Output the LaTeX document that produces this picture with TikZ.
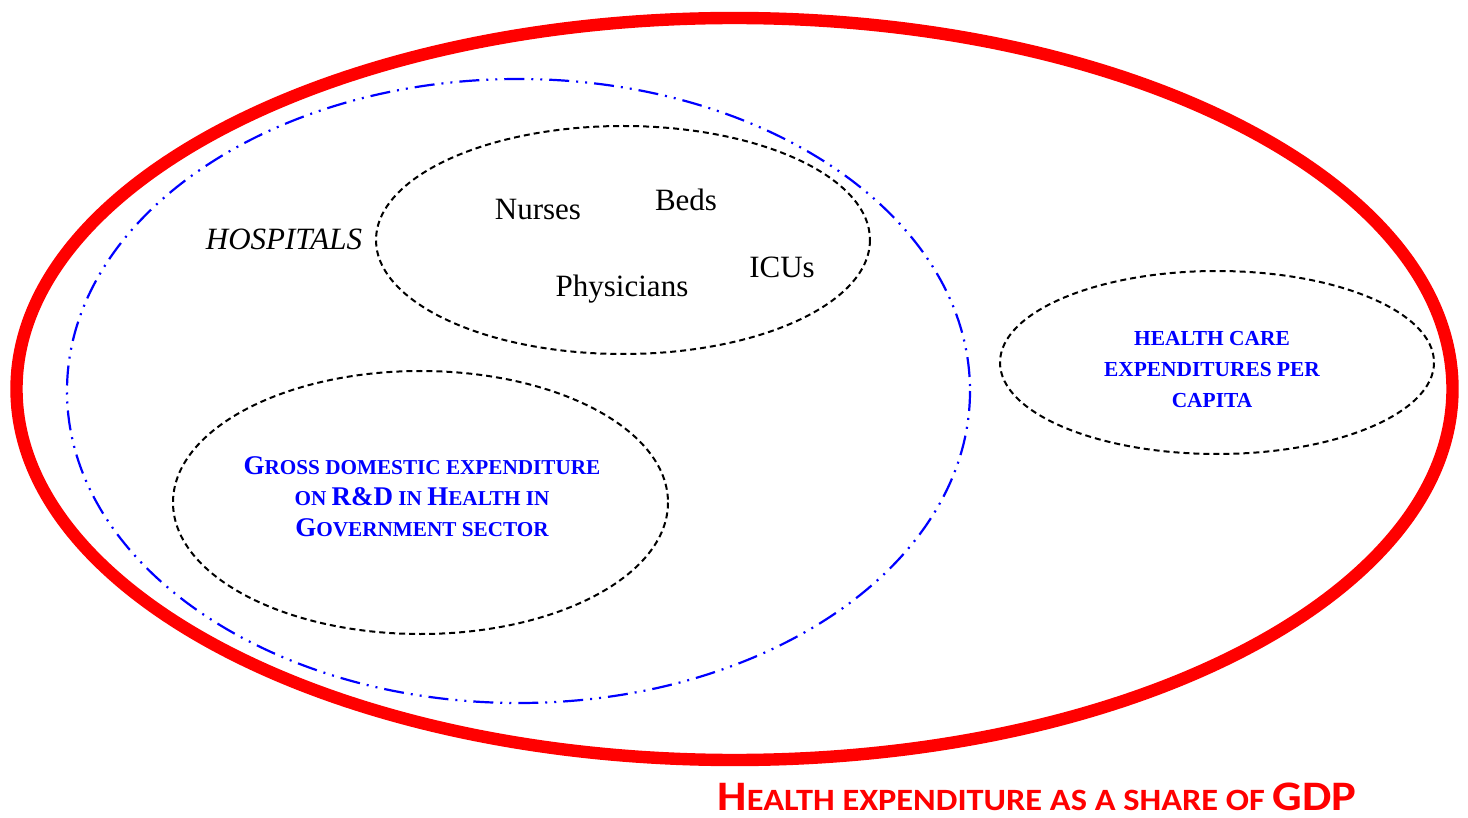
\documentclass[tikz,border=0pt]{standalone}
\usepackage{fontspec}
\usepackage{graphicx}
\setmainfont{Liberation Serif}
\newfontfamily\labfont{Carlito}
\definecolor{myred}{RGB}{255,0,0}
\definecolor{myblue}{RGB}{0,0,255}
\tikzset{
  px/.style={x=0.5pt,y=-0.5pt},
  blk/.style={draw=black,line width=1pt,dash pattern=on 3pt off 2pt},
  word/.style={inner sep=0pt,font=\fontsize{15.5}{18}\selectfont},
  bluetxt/.style={inner sep=0pt,align=center,text=myblue,font=\bfseries\fontsize{10.7}{15.5}\selectfont},
}
\newcommand{\gsc}[2]{{\fontsize{13.5}{15.5}\selectfont #1}{\fontsize{10.6}{15.5}\selectfont #2}}
\newcommand{\gs}[1]{{\fontsize{10.6}{15.5}\selectfont #1}}
\begin{document}
\begin{tikzpicture}[px]
\useasboundingbox (0,0) rectangle (1468,818);
\draw[myred,line width=6.2pt] (734.5,389) ellipse [x radius=718,y radius=371];
\draw[myblue,line width=1.1pt,dash pattern=on 10pt off 3.5pt on 1pt off 3.5pt on 1pt off 3.5pt] (518.5,391) ellipse [x radius=451.5,y radius=312];
\draw[blk] (623,240) ellipse [x radius=247,y radius=114];
\draw[blk] (420.5,502.5) ellipse [x radius=247.5,y radius=131.5];
\draw[blk] (1217,362.5) ellipse [x radius=217,y radius=91.5];
\node[word,font=\fontsize{15.5}{18}\selectfont\itshape] (hosp) at (284,239) {HOSPITALS};
\node[word] (nurses) at (538,210) {Nurses};
\node[word] (beds) at (686,200) {Beds};
\node[word] (icus) at (782,267) {ICUs};
\node[word] (phys) at (622,289) {Physicians};
\node[bluetxt] (gerd) at (422,497) {\gsc{G}{ROSS DOMESTIC EXPENDITURE}\\\gs{ON }\gsc{R\&D}{ IN }\gsc{H}{EALTH IN}\\\gsc{G}{OVERNMENT SECTOR}};
\node[bluetxt] (hce) at (1212,370) {HEALTH CARE\\EXPENDITURES PER\\CAPITA};
\node[inner sep=0pt,text=myred,font=\labfont\bfseries] (lab) at (1037,797) {\scalebox{1.108}[1]{{\fontsize{21}{24}\selectfont H}{\fontsize{15.5}{24}\selectfont EALTH EXPENDITURE AS A SHARE OF }{\fontsize{21}{24}\selectfont GDP}}};
\end{tikzpicture}
\end{document}
